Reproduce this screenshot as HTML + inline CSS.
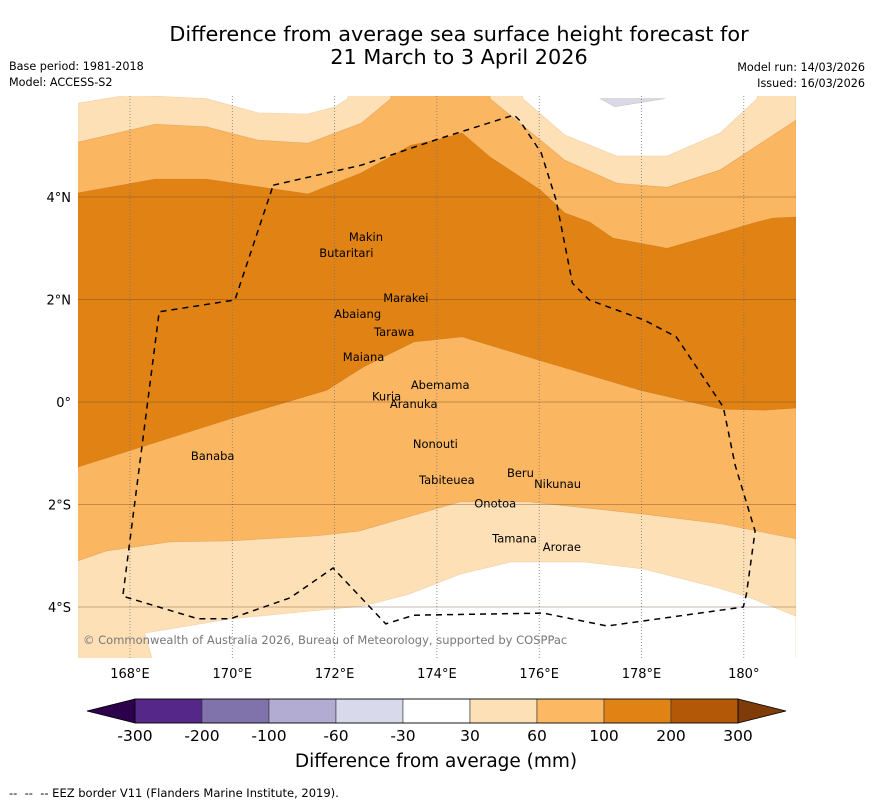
<!DOCTYPE html>
<html><head><meta charset="utf-8"><style>
body{margin:0;background:#fff;width:873px;height:804px;overflow:hidden;font-family:"DejaVu Sans","Liberation Sans",sans-serif;}
svg text{font-family:"DejaVu Sans","Liberation Sans",sans-serif;}
</style></head><body>
<svg id="chart" width="873" height="804" viewBox="0 0 873 804" xmlns="http://www.w3.org/2000/svg">
<text x="459" y="41" font-size="20.8" text-anchor="middle" fill="#000">Difference from average sea surface height forecast for</text>
<text x="459" y="64" font-size="20.8" text-anchor="middle" fill="#000">21 March to 3 April 2026</text>
<text x="9" y="70" font-size="11.2" fill="#000">Base period: 1981-2018</text>
<text x="9" y="86" font-size="11.2" fill="#000">Model: ACCESS-S2</text>
<text x="865" y="71" font-size="11.2" text-anchor="end" fill="#000">Model run: 14/03/2026</text>
<text x="865" y="87" font-size="11.2" text-anchor="end" fill="#000">Issued: 16/03/2026</text>
<defs><clipPath id="mapclip"><rect x="78" y="96" width="718" height="562"/></clipPath></defs>
<g id="map" clip-path="url(#mapclip)"></g>
<g id="axes"></g>
<g id="cbar"></g>
<text x="436" y="767" font-size="18.5" text-anchor="middle" fill="#000">Difference from average (mm)</text>
<text x="9" y="797" font-size="11.5" fill="#000" xml:space="preserve">--  --  -- EEZ border V11 (Flanders Marine Institute, 2019).</text>
</svg>
<script>
// contour boundaries (lon/lat)
const L30TopLeftLon=[166.98,167.96,169.49,170.50,171.48,172.01,172.26];
const L30TopLeftLat=[5.83,5.99,5.92,5.64,5.62,5.76,5.92];
const L60TopLeftLon=[166.98,168.49,169.49,170.50,171.48,172.52,173.10];
const L60TopLeftLat=[5.07,5.42,5.37,5.11,5.05,5.44,5.92];
const L100TopLon=[166.98,168.49,169.49,171.48,172.52,173.49,174.06,174.49,175.04,176.02,176.50,176.99,177.44,178.50,179.54,180.18,180.57,181.02];
const L100TopLat=[4.08,4.35,4.35,4.06,4.47,5.01,5.13,5.25,4.78,4.14,3.69,3.51,3.20,3.00,3.30,3.49,3.59,3.61];
const L60TopRightLon=[175.04,176.50,177.52,178.50,179.54,181.02];
const L60TopRightLat=[5.92,4.72,4.27,4.19,4.53,5.50];
const L30TopRightLon=[175.68,176.50,177.52,178.50,179.54,180.26];
const L30TopRightLat=[5.92,5.21,4.80,4.80,5.25,5.92];
const NegLon=[177.19,177.48,178.46];
const NegLat=[5.92,5.76,5.92];
const L100BotLon=[166.98,169.96,171.85,172.56,173.55,174.49,175.98,177.97,179.57,180.39,181.02];
const L100BotLat=[-1.27,-0.33,0.23,0.68,1.17,1.27,0.82,0.23,-0.14,-0.16,-0.12];
const L60BotLon=[166.98,167.53,168.78,169.96,171.66,172.48,174.45,175.80,178.05,179.57,181.02];
const L60BotLat=[-3.10,-2.91,-2.73,-2.71,-2.61,-2.52,-1.95,-1.95,-2.19,-2.38,-2.67];
const L30BotLon=[168.43,168.29,169.96,172.56,173.45,174.45,175.45,176.88,178.05,179.50,180.13,181.02];
const L30BotLat=[-5.0,-4.51,-4.23,-3.98,-3.75,-3.36,-3.12,-3.12,-3.26,-3.63,-3.82,-4.18];
const eezLon=[170.80,172.52,174.02,175.51,175.61,176.04,176.33,176.65,176.98,178.05,178.68,179.60,179.83,180.22,180.05,179.99,177.33,176.08,173.55,173.00,171.97,171.13,169.96,169.33,167.86,168.25,168.57,170.05,170.80];
const eezLat=[4.23,4.62,5.13,5.60,5.50,4.86,3.94,2.32,1.99,1.60,1.27,-0.10,-1.23,-2.52,-3.75,-4.00,-4.37,-4.12,-4.16,-4.33,-3.24,-3.82,-4.23,-4.23,-3.79,-0.74,1.76,1.99,4.23];
const islandNames=["Makin","Butaritari","Marakei","Abaiang","Tarawa","Maiana","Abemama","Kuria","Aranuka","Banaba","Nonouti","Beru","Tabiteuea","Nikunau","Onotoa","Tamana","Arorae"];
const islandLon=[172.28,171.70,172.95,171.99,172.77,172.16,173.49,172.73,173.08,169.19,173.53,175.37,173.65,175.90,174.73,175.08,176.07];
const islandLat=[3.22,2.91,2.03,1.72,1.37,0.88,0.33,0.11,-0.04,-1.05,-0.82,-1.39,-1.52,-1.60,-1.98,-2.66,-2.83];
const lonTicks=[168,170,172,174,176,178,180];
const lonLabels=["168°E","170°E","172°E","174°E","176°E","178°E","180°"];
const latTicks=[4,2,0,-2,-4];
const latLabels=["4°N","2°N","0°","2°S","4°S"];
const cbarLabels=["-300","-200","-100","-60","-30","30","60","100","200","300"];
const cbarColors=["#542788","#8073ac","#b2abd2","#d8daeb","#ffffff","#fee0b6","#fdb863","#e08214","#b35806"];

const NS="http://www.w3.org/2000/svg";
const xS=lon=>130+(lon-168)*51.15;
const yS=lat=>402-lat*51.25;
const LON0=166.98,LON1=181.02,LAT0=-5.0,LAT1=5.93;
function mk(tag,attrs,parent){const e=document.createElementNS(NS,tag);for(const k in attrs)e.setAttribute(k,attrs[k]);parent.appendChild(e);return e;}
function pts(lons,lats){return lons.map((v,i)=>xS(v).toFixed(1)+","+yS(lats[i]).toFixed(1));}
const map=document.getElementById('map');
function poly(list,fill,name){const p=mk('polygon',{points:list.join(' '),fill:fill,stroke:fill==='#ffffff'?'#f0d0a8':'rgba(150,80,10,0.25)','stroke-width':0.6},map);

return p;}
const C=(a,b)=>xS(a).toFixed(1)+","+yS(b).toFixed(1);
poly([C(LON0,LAT1+1),C(LON1,LAT1+1),C(LON1,LAT0-1),C(LON0,LAT0-1)],'#e08214','band-100-200');
poly([C(LON0,LAT1+1),C(LON1,LAT1+1)].concat(pts(L100TopLon,L100TopLat).reverse()),'#fbb661','band-60-100-north');
poly([C(LON0,LAT1+1)].concat(pts(L60TopLeftLon,L60TopLeftLat),[C(173.10,LAT1+1)]),'#fee0b6','band-30-60-north-west');
poly(pts(L60TopRightLon,L60TopRightLat).concat([C(LON1,LAT1+1),C(175.04,LAT1+1)]),'#fee0b6','band-30-60-north-east');
poly([C(LON0,LAT1+1)].concat(pts(L30TopLeftLon,L30TopLeftLat),[C(172.26,LAT1+1)]),'#ffffff','band-neutral-north-west');
poly(pts(L30TopRightLon,L30TopRightLat).concat([C(180.26,LAT1+1),C(175.68,LAT1+1)]),'#ffffff','band-neutral-north-east');
poly(pts(NegLon,NegLat),'#d8daeb','band-negative-sliver');
poly(pts(L100BotLon,L100BotLat).concat([C(LON1,LAT0-1),C(LON0,LAT0-1)]),'#fbb661','band-60-100-south');
poly(pts(L60BotLon,L60BotLat).concat([C(LON1,LAT0-1),C(LON0,LAT0-1)]),'#fee0b6','band-30-60-south');
poly(pts(L30BotLon,L30BotLat).concat([C(LON1,LAT0-1),C(168.43,LAT0-1)]),'#ffffff','band-neutral-south');
lonTicks.forEach(l=>{const g=mk('line',{x1:xS(l),x2:xS(l),y1:96,y2:658,stroke:'#777','stroke-width':0.8,'stroke-dasharray':'1,2'},map);

});
latTicks.forEach(l=>{const g=mk('line',{x1:78,x2:796,y1:yS(l),y2:yS(l),stroke:'rgba(90,60,30,0.35)','stroke-width':1},map);

});
const eez=mk('polyline',{points:pts(eezLon,eezLat).join(' '),fill:'none',stroke:'#000','stroke-width':1.5,'stroke-dasharray':'6,5'},map);


islandNames.forEach((n,i)=>{const t=mk('text',{x:xS(islandLon[i]),y:yS(islandLat[i])+4,'font-size':11.5,'text-anchor':'start',fill:'#000'},map);t.textContent=n;

});
const cp=mk('text',{x:83,y:644,'font-size':11.5,fill:'#777'},map);cp.textContent="© Commonwealth of Australia 2026, Bureau of Meteorology, supported by COSPPac";


const ax=document.getElementById('axes');
lonTicks.forEach((l,i)=>{const t=mk('text',{x:xS(l),y:678,'font-size':13,'text-anchor':'middle',fill:'#000'},ax);t.textContent=lonLabels[i];

});
latTicks.forEach((l,i)=>{const t=mk('text',{x:71,y:yS(l)+5,'font-size':13,'text-anchor':'end',fill:'#000'},ax);t.textContent=latLabels[i];

});
const cb=document.getElementById('cbar');
const cx0=135,cx1=738,cy0=699,cy1=723,bw=(cx1-cx0)/cbarColors.length;
const lt=mk('polygon',{points:`${cx0},${cy0} ${cx0},${cy1} 87,711`,fill:'#2d004b',stroke:'#000','stroke-width':0.8},cb);


const rt=mk('polygon',{points:`${cx1},${cy0} ${cx1},${cy1} 786,711`,fill:'#7f3b08',stroke:'#000','stroke-width':0.8},cb);


cbarColors.forEach((c,i)=>{const r=mk('rect',{x:cx0+i*bw,y:cy0,width:bw,height:cy1-cy0,fill:c,stroke:'#333','stroke-width':0.6},cb);

});
mk('rect',{x:cx0,y:cy0,width:cx1-cx0,height:cy1-cy0,fill:'none',stroke:'#000','stroke-width':0.8},cb);
cbarLabels.forEach((s,i)=>{const t=mk('text',{x:cx0+i*bw,y:741,'font-size':15.5,'text-anchor':'middle',fill:'#000'},cb);t.textContent=s;

});
</script>
</body></html>
